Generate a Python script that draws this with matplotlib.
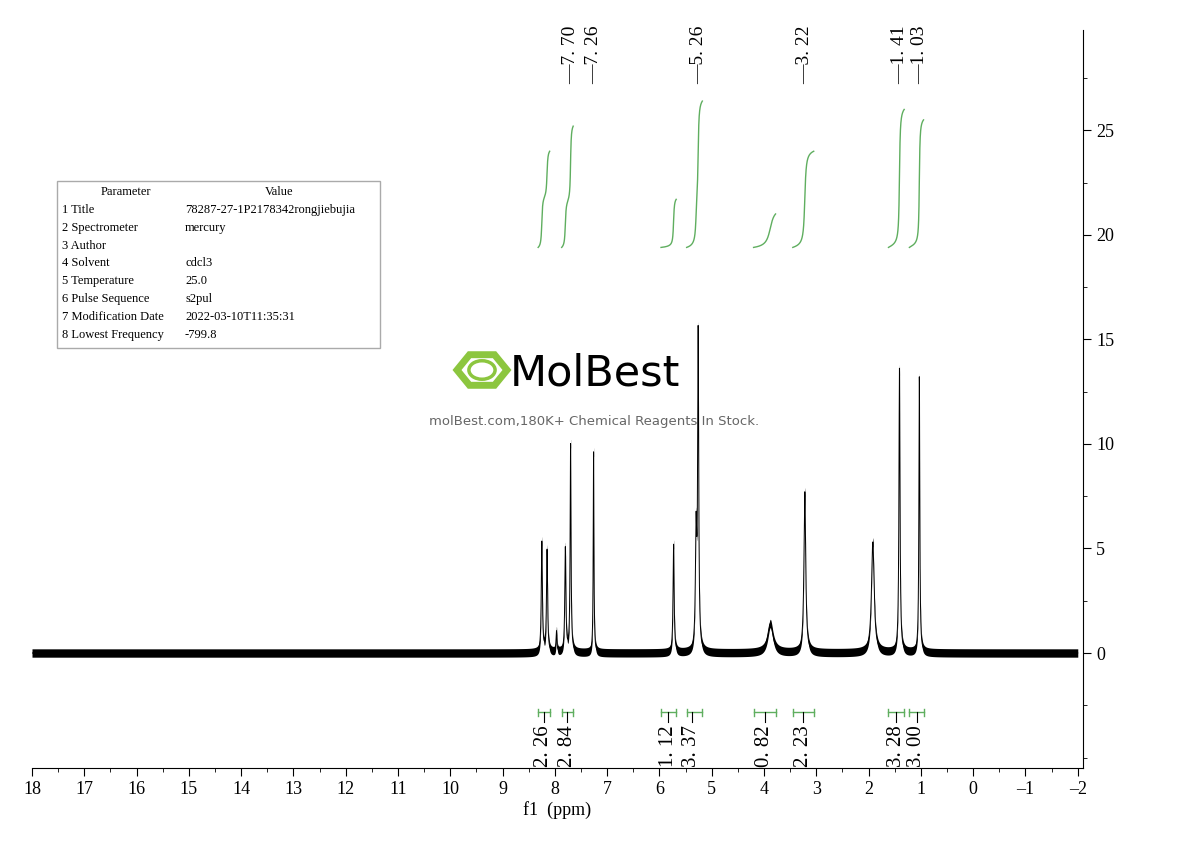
import numpy as np
import matplotlib.pyplot as plt
from matplotlib.patches import Rectangle, RegularPolygon, Circle

# peaks: position (ppm), height, half width (ppm)
peak_ppm = [8.25, 8.15, 7.97, 7.80, 7.70, 7.26, 5.73, 5.30, 5.26, 3.88, 3.22, 1.92, 1.41, 1.03]
peak_height = [5.3, 4.9, 1.0, 5.0, 10.0, 9.7, 5.2, 5.5, 15.0, 1.4, 7.7, 5.3, 13.6, 13.2]
peak_width = [0.012, 0.012, 0.01, 0.012, 0.01, 0.008, 0.012, 0.015, 0.012, 0.06, 0.02, 0.03, 0.012, 0.01]
noise_level = 0.2

label_ppm = [7.70, 7.26, 5.26, 3.22, 1.41, 1.03]

# integrals: (start, end, top of curve, value label)
int_start = [8.32, 7.87, 5.97, 5.48, 4.20, 3.45, 1.62, 1.22]
int_end = [8.10, 7.65, 5.68, 5.18, 3.78, 3.05, 1.32, 0.95]
int_top = [24.0, 25.2, 21.7, 26.4, 21.0, 24.0, 26.0, 25.5]
int_value = ["2.26", "2.84", "1.12", "3.37", "0.82", "2.23", "3.28", "3.00"]
int_label_ppm = [8.21, 7.76, 5.83, 5.38, 3.99, 3.25, 1.47, 1.08]

params = ["Title", "Spectrometer", "Author", "Solvent", "Temperature",
          "Pulse Sequence", "Modification Date", "Lowest Frequency"]
values = ["78287-27-1P2178342rongjiebujia", "mercury", "", "cdcl3", "25.0",
          "s2pul", "2022-03-10T11:35:31", "-799.8"]

serif = "Liberation Serif"
green = "#5fae5f"

x = np.linspace(18.0, -2.0, 12000)


def spectrum(xs):
    y = np.zeros_like(xs)
    for p, h, w in zip(peak_ppm, peak_height, peak_width):
        y += h * w ** 2 / ((xs - p) ** 2 + w ** 2)
    return y


y = spectrum(x)

fig = plt.figure(figsize=(11.9, 8.41), dpi=100)
ax = fig.add_axes([32 / 1190, 1 - 768 / 841, 1051 / 1190, 738 / 841])
ax.fill_between(x, y - noise_level, y + noise_level, color="black", lw=0)
ax.plot(x, y, color="black", lw=0.7)

ax.set_xlim(18.0, -2.1)
ax.set_ylim(-5.5, 29.8)

# integral curves
base = 19.4
for s, e, top in zip(int_start, int_end, int_top):
    xs = np.linspace(s, e, 400)
    cs = np.cumsum(spectrum(xs))
    cs = cs / cs[-1]
    ax.plot(xs, base + cs * (top - base), color=green, lw=1)

# integral brackets and values
for s, e, v, lp in zip(int_start, int_end, int_value, int_label_ppm):
    ax.plot([s, e], [-2.83, -2.83], color=green, lw=1)
    ax.plot([s, s], [-3.0, -2.66], color=green, lw=1)
    ax.plot([e, e], [-3.0, -2.66], color=green, lw=1)
    ax.plot([lp, lp], [-2.83, -3.3], color="black", lw=0.8)
    ax.text(lp, -5.45, v.replace(".", ". "), rotation=90, ha="center", va="bottom",
            fontsize=15, family=serif)

# peak labels
for p in label_ppm:
    ax.text(p, 27.2, "\u2014" + format(p, ".2f").replace(".", ". "),
            rotation=90, ha="center", va="bottom", fontsize=14, family=serif)

for s in ["left", "top"]:
    ax.spines[s].set_visible(False)
ax.yaxis.tick_right()
ax.set_yticks([0, 5, 10, 15, 20, 25])
ax.set_yticks(np.arange(-5, 29, 2.5), minor=True)
ax.set_xticks(np.arange(18, -3, -1))
ax.set_xticks(np.arange(18, -2.5, -0.5), minor=True)
ax.set_xticklabels([str(int(t)).replace("-", "\u2013") for t in np.arange(18, -3, -1)])
ax.tick_params(labelsize=13, length=6, width=0.8)
ax.tick_params(which="minor", length=3)
for lab in ax.get_xticklabels() + ax.get_yticklabels():
    lab.set_family(serif)
ax.set_xlabel("f1  (ppm)", fontsize=13, family=serif, labelpad=2)

# parameter table
fig.patches.append(Rectangle((57 / 1190, 1 - 348 / 841), 323 / 1190, 167 / 841,
                             transform=fig.transFigure, fill=False, ec="#aaaaaa", lw=1))
fig.text(126 / 1190, 1 - 192 / 841, "Parameter", ha="center", va="center", fontsize=9, family=serif)
fig.text(279 / 1190, 1 - 192 / 841, "Value", ha="center", va="center", fontsize=9, family=serif)
for i, (pn, pv) in enumerate(zip(params, values)):
    yy = 1 - (210 + i * 17.8) / 841
    fig.text(62 / 1190, yy, f"{i + 1} {pn}", va="center", fontsize=9, family=serif)
    fig.text(185 / 1190, yy, pv, va="center", fontsize=9, family=serif)

# watermark
fig.patches.append(RegularPolygon((482 / 1190, 1 - 370 / 841), 6, radius=0.021,
                                  orientation=np.pi / 6, transform=fig.transFigure,
                                  fill=False, ec="#8cc63f", lw=5))
fig.patches.append(Circle((482 / 1190, 1 - 370 / 841), 0.011, transform=fig.transFigure,
                          fill=False, ec="#8cc63f", lw=2.5))
fig.text(510 / 1190, 1 - 374 / 841, "MolBest", fontsize=31, va="center",
         family="DejaVu Sans", color="black")
fig.text(594 / 1190, 1 - 421 / 841, "molBest.com,180K+ Chemical Reagents In Stock.",
         ha="center", va="center", fontsize=9.5, color="#666666")

fig.savefig("out.png", dpi=100)
